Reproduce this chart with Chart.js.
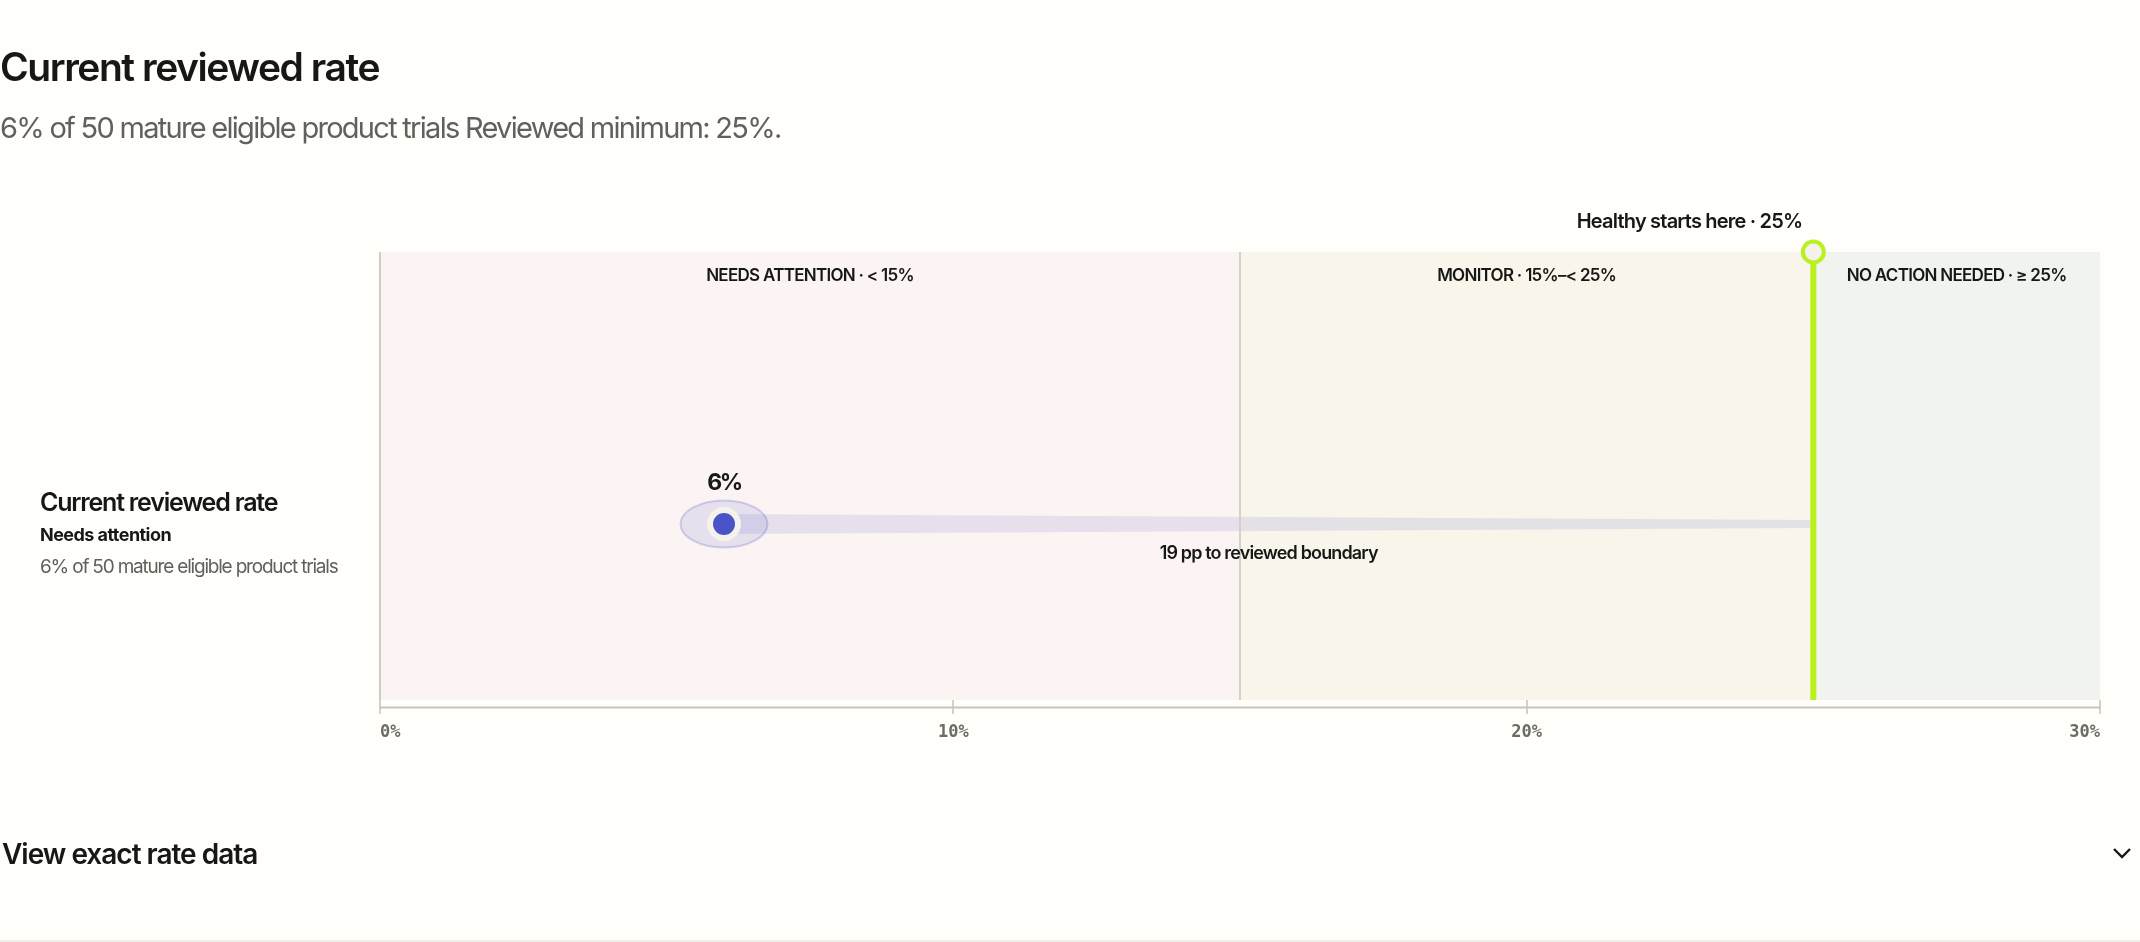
<!DOCTYPE html>
<html>
<head>
<meta charset="utf-8">
<title>Current reviewed rate</title>
<script src="https://cdn.jsdelivr.net/npm/chart.js@4/dist/chart.umd.min.js"></script>
<style>
  html, body { margin: 0; padding: 0; background: #fffefb; }
  body { width: 2140px; height: 942px; position: relative; overflow: hidden; font-family: Inter, sans-serif; color: #161815; }
  canvas { position: absolute; left: 0; top: 0; }
  .t { position: absolute; white-space: nowrap; line-height: 1; }
  #title { left: 0; top: 47px; font-size: 39px; font-weight: 600; letter-spacing: -1.45px; }
  #sub { left: 0; top: 113px; font-size: 29px; font-weight: 400; letter-spacing: -1.72px; color: #5f625c; }
  #rowName { left: 40px; top: 490px; font-size: 25px; font-weight: 600; letter-spacing: -1.2px; }
  #rowState { left: 40px; top: 526px; font-size: 18px; font-weight: 700; letter-spacing: -0.55px; }
  #rowNote { left: 40px; top: 557px; font-size: 19px; font-weight: 400; letter-spacing: -1.2px; color: #5f625c; }
  #more { left: 2px; top: 840px; font-size: 28px; font-weight: 600; letter-spacing: -1px; }
  #chev { position: absolute; left: 2112px; top: 846px; }
  #foot { position: absolute; left: 0; top: 940px; width: 2140px; height: 2px; background: #f0f0e8; }
</style>
</head>
<body>
<canvas id="rate" width="2140" height="942"></canvas>
<div class="t" id="title">Current reviewed rate</div>
<div class="t" id="sub">6% of 50 mature eligible product trials Reviewed minimum: 25%.</div>
<div class="t" id="rowName">Current reviewed rate</div>
<div class="t" id="rowState">Needs attention</div>
<div class="t" id="rowNote">6% of 50 mature eligible product trials</div>
<div class="t" id="more">View exact rate data</div>
<svg id="chev" width="20" height="14" viewBox="0 0 20 14"><path d="M2 3 L10 11 L18 3" fill="none" stroke="#161815" stroke-width="2.4"/></svg>
<div id="foot"></div>
<script>
var categories = ['Current reviewed rate'];
var bandNames = ['NEEDS ATTENTION · < 15%', 'MONITOR · 15%–< 25%', 'NO ACTION NEEDED · ≥ 25%'];
var bandStart = [0, 15, 25];
var bandEnd = [15, 25, 30];
var bandColors = ['#fcf4f2', '#f9f5eb', '#f0f3ee'];
var currentRate = [6];
var healthyFrom = [25];
var monitorFrom = [15];
var axisMin = 0;
var axisMax = 30;

var plotH = 448;
var rowY = (700 - 524) / plotH;
var tailStart = 10 / plotH;
var tailEnd = 4 / plotH;

// halo round the current value is wider than tall
var halo = document.createElement('canvas');
halo.width = 92;
halo.height = 52;
var hctx = halo.getContext('2d');
hctx.beginPath();
hctx.ellipse(46, 26, 43.5, 23.5, 0, 0, Math.PI * 2);
hctx.fillStyle = 'rgba(74, 83, 200, 0.12)';
hctx.fill();
hctx.lineWidth = 2;
hctx.strokeStyle = 'rgba(74, 83, 200, 0.24)';
hctx.stroke();

function rule(value, color, width, order) {
  return {
    type: 'scatter', xAxisID: 'x', yAxisID: 'v', order: order, clip: false,
    data: [{ x: value, y: 0 }, { x: value, y: 1 }],
    showLine: true, borderColor: color, borderWidth: width, pointRadius: 0
  };
}

var datasets = bandStart.map(function (s, i) {
  return {
    type: 'bar', xAxisID: 'x', yAxisID: 'y', order: 10,
    data: [[s, bandEnd[i]]], backgroundColor: bandColors[i],
    barPercentage: 1, categoryPercentage: 1, grouped: false
  };
});

// tapered tail from the value to the boundary
datasets.push({
  type: 'scatter', xAxisID: 'x', yAxisID: 'v', order: 8, clip: false,
  data: [
    { x: currentRate[0], y: rowY + tailStart },
    { x: healthyFrom[0], y: rowY + tailEnd },
    { x: healthyFrom[0], y: rowY - tailEnd },
    { x: currentRate[0], y: rowY - tailStart }
  ],
  showLine: true, fill: 'shape', borderWidth: 0, pointRadius: 0,
  borderColor: 'rgba(0,0,0,0)', backgroundColor: 'rgba(74, 83, 200, 0.12)'
});

datasets.push(rule(axisMin, '#cfcdc6', 2, 7));
datasets.push(rule(monitorFrom[0], '#d3d1c9', 2, 7));

var boundaryLine = rule(healthyFrom[0], '#b9f01e', 6, 6);
boundaryLine.pointRadius = [0, 10.5];
boundaryLine.pointBorderWidth = 4;
boundaryLine.pointBorderColor = '#b9f01e';
boundaryLine.pointBackgroundColor = '#f2f2ea';
datasets.push(boundaryLine);

datasets.push({
  type: 'scatter', xAxisID: 'x', yAxisID: 'v', order: 5, clip: false,
  data: [{ x: currentRate[0], y: rowY }], pointStyle: halo
});
datasets.push({
  type: 'scatter', xAxisID: 'x', yAxisID: 'v', order: 4, clip: false,
  data: [{ x: currentRate[0], y: rowY }],
  pointRadius: 14, pointBorderWidth: 6,
  pointBackgroundColor: '#4a53c8', pointBorderColor: '#f4f2ec'
});

function label(ctx, text, x, y, font, align, spacing) {
  ctx.font = font;
  ctx.textAlign = align;
  ctx.textBaseline = 'middle';
  ctx.letterSpacing = spacing;
  ctx.fillStyle = '#161815';
  ctx.fillText(text, x, y);
}

var annotations = {
  id: 'annotations',
  afterDatasetsDraw: function (chart) {
    var ctx = chart.ctx;
    var x = chart.scales.x;
    var v = chart.scales.v;
    ctx.save();
    bandNames.forEach(function (name, i) {
      label(ctx, name, x.getPixelForValue((bandStart[i] + bandEnd[i]) / 2), chart.chartArea.top + 23.5,
        '600 17px Inter', 'center', '-0.72px');
    });
    label(ctx, 'Healthy starts here · 25%', x.getPixelForValue(healthyFrom[0]) - 11, chart.chartArea.top - 30,
      '600 20px Inter', 'right', '-0.8px');
    label(ctx, currentRate[0] + '%', x.getPixelForValue(currentRate[0]), v.getPixelForValue(rowY) - 41,
      '700 23px Inter', 'center', '-2.4px');
    label(ctx, '19 pp to reviewed boundary', (x.getPixelForValue(currentRate[0]) + x.getPixelForValue(healthyFrom[0])) / 2, v.getPixelForValue(rowY) + 30,
      '600 18px Inter', 'center', '-0.85px');
    // axis baseline sits halfway down the ticks
    ctx.beginPath();
    ctx.moveTo(x.left, x.top + 7.5);
    ctx.lineTo(x.right, x.top + 7.5);
    ctx.lineWidth = 2;
    ctx.strokeStyle = '#c6c6bc';
    ctx.stroke();
    ctx.restore();
  }
};

new Chart(document.getElementById('rate').getContext('2d'), {
  data: { labels: categories, datasets: datasets },
  plugins: [annotations],
  options: {
    indexAxis: 'y',
    responsive: false,
    animation: false,
    layout: { padding: { left: 380, right: 40, top: 252, bottom: 200 } },
    plugins: { legend: { display: false }, tooltip: { enabled: false } },
    scales: {
      x: {
        type: 'linear', min: axisMin, max: axisMax, position: 'bottom',
        afterFit: function (s) { s.height = 42; },
        border: { display: false },
        grid: { drawOnChartArea: false, color: '#d3d1c9', lineWidth: 2, tickLength: 14 },
        ticks: {
          stepSize: 10, align: 'inner', maxRotation: 0, padding: 8, color: '#6a6d66',
          font: { family: '"DejaVu Sans Mono"', size: 17, weight: 'bold' },
          callback: function (val) { return val + '%'; }
        }
      },
      y: { type: 'category', display: false },
      v: { type: 'linear', axis: 'y', display: false, min: 0, max: 1 }
    }
  }
});
</script>
</body>
</html>
